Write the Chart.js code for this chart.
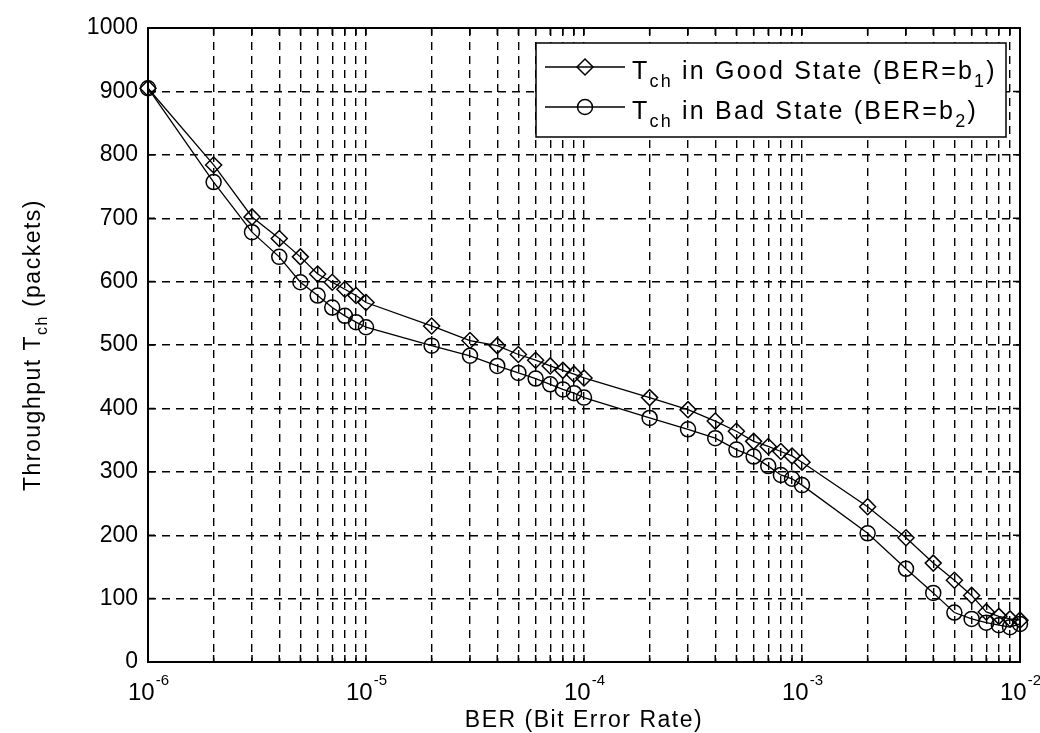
<!DOCTYPE html>
<html>
<head>
<meta charset="utf-8">
<title>Throughput vs BER</title>
<script src="https://cdn.jsdelivr.net/npm/chart.js@4.4.1/dist/chart.umd.min.js"></script>
<style>
  html, body { margin: 0; padding: 0; background: #fff; }
  #wrap { width: 1040px; height: 733px; position: relative; }
</style>
</head>
<body>
<div id="wrap"><canvas id="throughputChart"></canvas></div>
<script>
// bit error rates where throughput was computed (also the vertical grid lines)
const berValues = [
  1e-6, 2e-6, 3e-6, 4e-6, 5e-6, 6e-6, 7e-6, 8e-6, 9e-6,
  1e-5, 2e-5, 3e-5, 4e-5, 5e-5, 6e-5, 7e-5, 8e-5, 9e-5,
  1e-4, 2e-4, 3e-4, 4e-4, 5e-4, 6e-4, 7e-4, 8e-4, 9e-4,
  1e-3, 2e-3, 3e-3, 4e-3, 5e-3, 6e-3, 7e-3, 8e-3, 9e-3,
  1e-2
];

// throughput in packets, good state (BER = b1)
const goodThroughput = [
  905, 784, 702, 668, 639, 612, 599, 588, 578,
  567, 530, 507, 499, 485, 476, 467, 460, 454,
  448, 417, 398, 380, 364, 348, 340, 332, 325,
  315, 245, 196, 156, 129, 105, 79, 72, 68,
  66
];

// throughput in packets, bad state (BER = b2)
const badThroughput = [
  905, 757, 678, 639, 599, 578, 559, 546, 536,
  528, 499, 483, 467, 456, 447, 438, 430, 424,
  417, 385, 367, 353, 335, 324, 309, 295, 289,
  279, 203, 147, 109, 78, 68, 62, 58, 55,
  60
];

// decade labels on the x axis: 10^exp
const xMajorValues = [1e-6, 1e-5, 1e-4, 1e-3, 1e-2];
const xMajorExponents = ["-6", "-5", "-4", "-3", "-2"];

// text pieces, alternating normal / subscript
const legendTexts = [
  ["T", "ch", " in Good State (BER=b", "1", ")"],
  ["T", "ch", " in Bad State (BER=b", "2", ")"]
];
const yTitleParts = ["Throughput T", "ch", " (packets)"];
const xTitle = "BER (Bit Error Rate)";

const FONT = '"Liberation Sans", Arial, Helvetica, sans-serif';

function richWidth(ctx, parts, size, subSize) {
  let w = 0;
  parts.forEach((p, i) => {
    ctx.font = (i % 2 ? subSize : size) + "px " + FONT;
    w += ctx.measureText(p).width;
  });
  return w;
}

function drawRich(ctx, parts, x, y, size, subSize, drop) {
  parts.forEach((p, i) => {
    const sub = i % 2 === 1;
    ctx.font = (sub ? subSize : size) + "px " + FONT;
    ctx.fillText(p, x, sub ? y + drop : y);
    x += ctx.measureText(p).width;
  });
}

function drawMarker(ctx, style, x, y, r) {
  ctx.beginPath();
  if (style === "circle") {
    ctx.arc(x, y, r, 0, Math.PI * 2);
  } else {
    ctx.moveTo(x, y - r);
    ctx.lineTo(x + r, y);
    ctx.lineTo(x, y + r);
    ctx.lineTo(x - r, y);
    ctx.closePath();
  }
  ctx.stroke();
}

// box, inner tick marks, decade labels, axis titles and legend
const framePlugin = {
  id: "frame",
  afterDraw(chart) {
    const { ctx, chartArea: a, scales } = chart;
    const xs = scales.x, ys = scales.y;
    ctx.save();
    ctx.strokeStyle = "#000";
    ctx.fillStyle = "#000";
    ctx.setLineDash([]);

    ctx.lineWidth = 2;
    ctx.strokeRect(a.left, a.top, a.right - a.left, a.bottom - a.top);

    ctx.lineWidth = 1.5;
    ctx.beginPath();
    berValues.forEach(v => {
      const px = xs.getPixelForValue(v);
      ctx.moveTo(px, a.bottom); ctx.lineTo(px, a.bottom - 7);
      ctx.moveTo(px, a.top); ctx.lineTo(px, a.top + 7);
    });
    ys.ticks.forEach(t => {
      const py = ys.getPixelForValue(t.value);
      ctx.moveTo(a.left, py); ctx.lineTo(a.left + 7, py);
      ctx.moveTo(a.right, py); ctx.lineTo(a.right - 7, py);
    });
    ctx.stroke();

    // decade labels 10^-n
    ctx.textAlign = "left";
    ctx.textBaseline = "alphabetic";
    xMajorValues.forEach((v, i) => {
      const px = xs.getPixelForValue(v);
      ctx.font = "24px " + FONT;
      const wBase = ctx.measureText("10").width;
      ctx.font = "15px " + FONT;
      const wExp = ctx.measureText(xMajorExponents[i]).width;
      const x0 = px - (wBase + wExp) / 2;
      ctx.font = "24px " + FONT;
      ctx.fillText("10", x0, a.bottom + 38);
      ctx.font = "15px " + FONT;
      ctx.fillText(xMajorExponents[i], x0 + wBase + 1, a.bottom + 23);
    });

    // x title
    ctx.font = "23px " + FONT;
    ctx.letterSpacing = "1.5px";
    ctx.textAlign = "center";
    ctx.fillText(xTitle, (a.left + a.right) / 2, a.bottom + 65);
    ctx.textAlign = "left";

    // y title, rotated
    const yw = richWidth(ctx, yTitleParts, 23, 16);
    ctx.save();
    ctx.translate(40, (a.top + a.bottom) / 2);
    ctx.rotate(-Math.PI / 2);
    drawRich(ctx, yTitleParts, -yw / 2, 0, 23, 16, 7);
    ctx.restore();
    ctx.letterSpacing = "0px";

    // legend box
    const bw = 470, bh = 94;
    const bx = a.right - 14 - bw, by = a.top + 15;
    ctx.fillStyle = "#fff";
    ctx.fillRect(bx, by, bw, bh);
    ctx.lineWidth = 1.5;
    ctx.strokeRect(bx, by, bw, bh);
    ctx.fillStyle = "#000";
    const styles = ["diamond", "circle"];
    const radii = [8, 7.5];
    legendTexts.forEach((parts, i) => {
      const ly = by + 24 + i * 40;
      ctx.lineWidth = 1.3;
      ctx.beginPath();
      ctx.moveTo(bx + 9, ly);
      ctx.lineTo(bx + 89, ly);
      ctx.stroke();
      ctx.lineWidth = 1.5;
      drawMarker(ctx, styles[i], bx + 49, ly, radii[i]);
      ctx.letterSpacing = "2.2px";
      drawRich(ctx, parts, bx + 96, ly + 12, 25, 18, 8);
      ctx.letterSpacing = "0px";
    });

    ctx.restore();
  }
};

const toPoints = vals => berValues.map((b, i) => ({ x: b, y: vals[i] }));

new Chart(document.getElementById("throughputChart"), {
  type: "line",
  data: {
    datasets: [
      {
        label: "Tch in Good State (BER=b1)",
        data: toPoints(goodThroughput),
        borderColor: "#000",
        borderWidth: 1.3,
        pointStyle: "rectRot",
        pointRadius: 8,
        pointBorderWidth: 1.5,
        pointBorderColor: "#000",
        pointBackgroundColor: "rgba(0,0,0,0)",
        tension: 0,
        clip: false
      },
      {
        label: "Tch in Bad State (BER=b2)",
        data: toPoints(badThroughput),
        borderColor: "#000",
        borderWidth: 1.3,
        pointStyle: "circle",
        pointRadius: 7.5,
        pointBorderWidth: 1.5,
        pointBorderColor: "#000",
        pointBackgroundColor: "rgba(0,0,0,0)",
        tension: 0,
        clip: false
      }
    ]
  },
  options: {
    responsive: true,
    maintainAspectRatio: false,
    animation: false,
    layout: { padding: { left: 88, right: 20, top: 28, bottom: 0 } },
    plugins: { legend: { display: false }, tooltip: { enabled: false } },
    scales: {
      x: {
        type: "logarithmic",
        min: 1e-6,
        max: 1e-2,
        afterBuildTicks: scale => { scale.ticks = berValues.map(v => ({ value: v })); },
        afterFit: scale => { scale.height = 71; },
        ticks: { display: false, autoSkip: false },
        grid: { color: "#000", lineWidth: 1.4, drawTicks: false },
        border: { display: false, dash: [8, 6] }
      },
      y: {
        min: 0,
        max: 1000,
        afterFit: scale => { scale.width = 60; },
        ticks: {
          stepSize: 100,
          padding: 10,
          color: "#000",
          font: { family: FONT, size: 23 },
          callback: v => String(v)
        },
        grid: { color: "#000", lineWidth: 1.4, drawTicks: false },
        border: { display: false, dash: [8, 6] }
      }
    }
  },
  plugins: [framePlugin]
});
</script>
</body>
</html>
